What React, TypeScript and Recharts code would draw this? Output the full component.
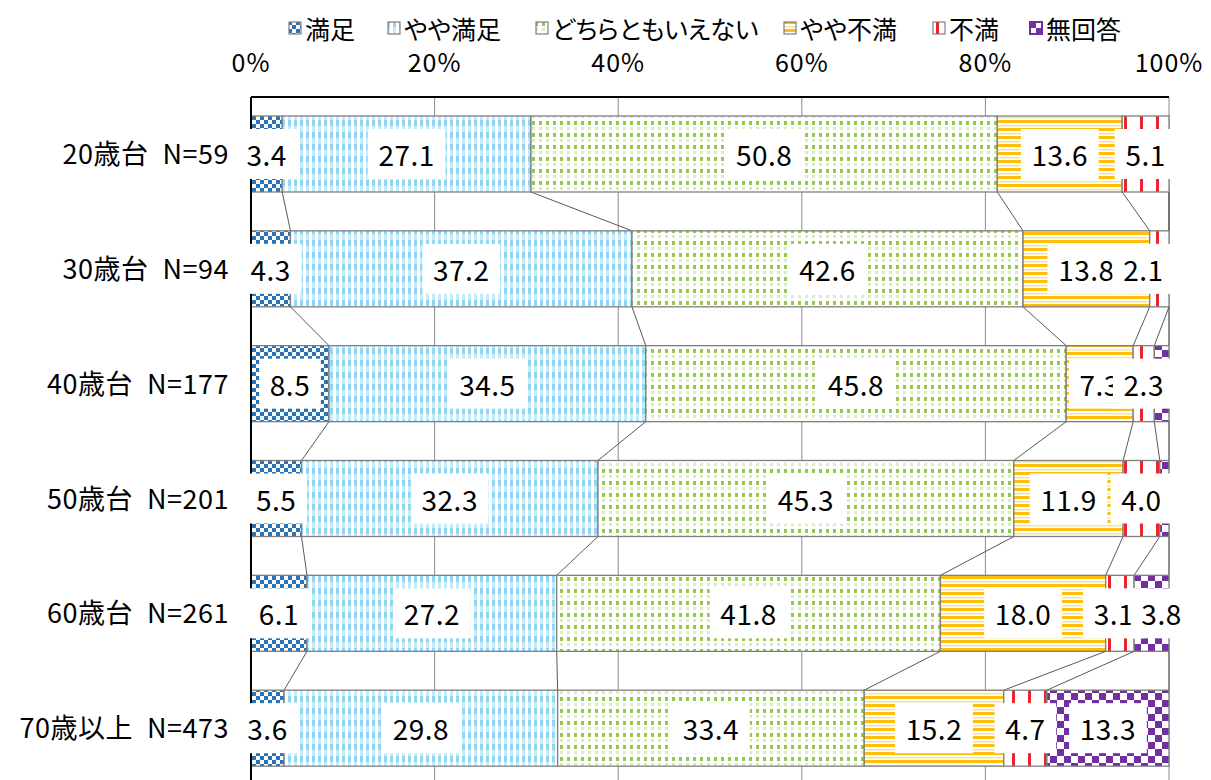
import React from "react";
import { BarChart, Bar, XAxis, YAxis, CartesianGrid, LabelList } from "recharts";

// 年代別の満足度（%）
const categories = [
  "20歳台\u2002N=59",
  "30歳台\u2002N=94",
  "40歳台\u2002N=177",
  "50歳台\u2002N=201",
  "60歳台\u2002N=261",
  "70歳以上\u2002N=473",
];
const seriesNames = ["満足", "やや満足", "どちらともいえない", "やや不満", "不満", "無回答"];
const manzoku = [3.4, 4.3, 8.5, 5.5, 6.1, 3.6];
const yayaManzoku = [27.1, 37.2, 34.5, 32.3, 27.2, 29.8];
const dochiramo = [50.8, 42.6, 45.8, 45.3, 41.8, 33.4];
const yayaFuman = [13.6, 13.8, 7.3, 11.9, 18.0, 15.2];
const fuman = [5.1, 2.1, 2.3, 4.0, 3.1, 4.7];
const mukaitou = [0.0, 0.0, 1.6, 1.0, 3.8, 13.3];
const xTicks = [0, 20, 40, 60, 80, 100];

const seriesValues = [manzoku, yayaManzoku, dochiramo, yayaFuman, fuman, mukaitou];
const seriesKeys = ["s0", "s1", "s2", "s3", "s4", "s5"];
const patternIds = ["pt-manzoku", "pt-yaya-manzoku", "pt-dochira", "pt-yaya-fuman", "pt-fuman", "pt-mukaitou"];

const rows = categories.map((label, i) => {
  const row: Record<string, any> = { label };
  seriesKeys.forEach((k, s) => (row[k] = seriesValues[s][i]));
  return row;
});

// cumulative starts per row: cum[i][s] = sum of series before s
const cum = categories.map((_, i) => {
  const acc = [0];
  seriesValues.forEach((vals, s) => acc.push(acc[s] + vals[i]));
  return acc;
});

const W = 1211;
const H = 786;
const MARGIN = { top: 47, right: 42, bottom: 0, left: 0 };
const X_AXIS_H = 50;
const Y_AXIS_W = 251;
const PLOT_LEFT = MARGIN.left + Y_AXIS_W;
const PLOT_TOP = MARGIN.top + X_AXIS_H;
const PLOT_W = W - PLOT_LEFT - MARGIN.right;
const PLOT_H = H - PLOT_TOP - MARGIN.bottom;
const BAND = PLOT_H / categories.length;

const FONT = "'Noto Sans CJK JP', 'Noto Sans', sans-serif";
const LABEL_FS = 28;

// hand-placed labels near the right edge (row-series -> px shift)
const LABEL_NUDGE: Record<string, number> = { "1-4": -16, "4-4": -6, "4-5": 10 };

function Patterns() {
  return (
    <defs>
      <pattern id="pt-manzoku" width={8} height={8} patternUnits="userSpaceOnUse">
        <rect width={8} height={8} fill="#fff" />
        <rect width={4} height={4} fill="#2b73b7" />
        <rect x={4} y={4} width={4} height={4} fill="#2b73b7" />
      </pattern>
      <pattern id="pt-yaya-manzoku" width={6} height={12} patternUnits="userSpaceOnUse">
        <rect width={6} height={12} fill="#fff" />
        <rect width={3} height={6} fill="#8fd7f5" />
        <rect y={6} width={3} height={6} fill="#c3ebfa" />
      </pattern>
      <pattern id="pt-dochira" width={7} height={12} patternUnits="userSpaceOnUse">
        <rect width={7} height={12} fill="#fff" />
        <rect x={0} y={1} width={3} height={4} fill="#92c94b" />
        <rect x={0} y={7} width={3} height={3} fill="#dbecc0" />
      </pattern>
      <pattern id="pt-yaya-fuman" width={8} height={8} patternUnits="userSpaceOnUse">
        <rect width={8} height={8} fill="#fff" />
        <rect width={8} height={3} fill="#fdbf0b" />
        <rect y={5} width={8} height={1.5} fill="#f8e3a4" />
      </pattern>
      <pattern id="pt-fuman" width={16} height={16} patternUnits="userSpaceOnUse">
        <rect width={16} height={16} fill="#fff" />
        <rect x={4} width={3} height={16} fill="#e8262d" />
      </pattern>
      <pattern id="pt-mukaitou" width={14} height={14} patternUnits="userSpaceOnUse">
        <rect width={14} height={14} fill="#fff" />
        <rect width={7} height={7} fill="#7030a0" />
        <rect x={7} y={7} width={7} height={7} fill="#7030a0" />
      </pattern>
    </defs>
  );
}

// one stacked segment plus the series line down to the next row
function Segment(props: any) {
  const { x, y, width, height, index, seriesIndex } = props;
  const lo = cum[index][seriesIndex];
  const hi = cum[index][seriesIndex + 1];
  const bg = props.background;
  const ppu = bg && bg.width ? bg.width / 100 : hi > lo ? width / (hi - lo) : PLOT_W / 100;
  const origin = bg && bg.width ? bg.x : x - lo * ppu;
  const next = index < categories.length - 1 ? cum[index + 1][seriesIndex + 1] : null;
  return (
    <g>
      {width > 0 && (
        <rect
          x={x}
          y={y}
          width={width}
          height={height}
          fill={`url(#${patternIds[seriesIndex]})`}
          stroke="#7f7f7f"
          strokeWidth={1.3}
        />
      )}
      {next !== null && (
        <line
          x1={origin + hi * ppu}
          y1={y + height}
          x2={origin + next * ppu}
          y2={y + BAND}
          stroke="#595959"
          strokeWidth={1}
        />
      )}
    </g>
  );
}

function textWidth(t: string) {
  let w = 0;
  for (const c of t) w += c === "." ? 0.28 * LABEL_FS : 0.57 * LABEL_FS;
  return w;
}

function ValueLabel(props: any) {
  const vb = props.viewBox || props;
  const { x, y, width, height } = vb;
  const value = Number(props.value);
  if (!isFinite(value) || value < 2) return null;
  const text = value.toFixed(1);
  const cy = y + height / 2;
  const row =
    typeof props.index === "number" ? props.index : Math.floor((cy - PLOT_TOP) / BAND);
  const cx = x + width / 2 + (LABEL_NUDGE[`${row}-${props.seriesIndex}`] || 0);
  const bw = textWidth(text) + 22;
  return (
    <g>
      <rect x={cx - bw / 2} y={cy - 25} width={bw} height={50} fill="#fff" />
      <text
        x={cx}
        y={cy}
        textAnchor="middle"
        dominantBaseline="central"
        fontFamily={FONT}
        fontSize={LABEL_FS}
        letterSpacing={0.5}
        fill="#000"
      >
        {text}
      </text>
    </g>
  );
}

const legendX = [288, 387, 535, 783, 932, 1029];

function LegendBar() {
  return (
    <div style={{ position: "absolute", left: 0, top: 0, width: W, height: 50 }}>
      {seriesNames.map((name, i) => (
        <div
          key={name}
          style={{
            position: "absolute",
            left: legendX[i],
            top: 12,
            display: "flex",
            alignItems: "center",
            height: 32,
            fontFamily: FONT,
            fontSize: 25,
            fontFeatureSettings: '"palt"',
            color: "#000",
            whiteSpace: "nowrap",
          }}
        >
          <svg width={14} height={14} style={{ marginRight: 3 }}>
            <rect
              x={1}
              y={1}
              width={12}
              height={12}
              fill={`url(#${patternIds[i]})`}
              stroke={i === 5 ? "#7030a0" : "#7f7f7f"}
              strokeWidth={i === 5 ? 2 : 1.2}
            />
          </svg>
          {name}
        </div>
      ))}
    </div>
  );
}

export default function App() {
  return (
    <div
      style={{
        position: "fixed",
        left: 0,
        top: 0,
        width: W,
        height: 780,
        overflow: "hidden",
        background: "#fff",
      }}
    >
      <LegendBar />
      <div style={{ position: "absolute", left: 0, top: 0 }}>
        <BarChart width={W} height={H} data={rows} layout="vertical" margin={MARGIN}>
          <Patterns />
          <CartesianGrid horizontal={false} stroke="#8c8c8c" strokeWidth={1} />
          <XAxis
            type="number"
            orientation="top"
            domain={[0, 100]}
            ticks={xTicks}
            interval={0}
            height={X_AXIS_H}
            tickFormatter={(v: number) => `${v}%`}
            axisLine={{ stroke: "#000", strokeWidth: 2 }}
            tickLine={false}
            tickSize={0}
            tickMargin={25}
            tick={{ fontSize: 25, fill: "#000", fontFamily: FONT, letterSpacing: 1 }}
          />
          <YAxis
            type="category"
            dataKey="label"
            width={Y_AXIS_W}
            axisLine={{ stroke: "#000", strokeWidth: 2 }}
            tickLine={false}
            tickSize={0}
            tickMargin={22}
            tick={{ fontSize: 27, fill: "#000", fontFamily: FONT, letterSpacing: 0.5 }}
          />
          {seriesKeys.map((key, si) => (
            <Bar
              key={key}
              dataKey={key}
              name={seriesNames[si]}
              stackId="total"
              barSize={76}
              isAnimationActive={false}
              shape={(p: any) => <Segment {...p} seriesIndex={si} />}
            >
              <LabelList
                dataKey={key}
                content={(p: any) => <ValueLabel {...p} seriesIndex={si} />}
              />
            </Bar>
          ))}
        </BarChart>
      </div>
    </div>
  );
}
